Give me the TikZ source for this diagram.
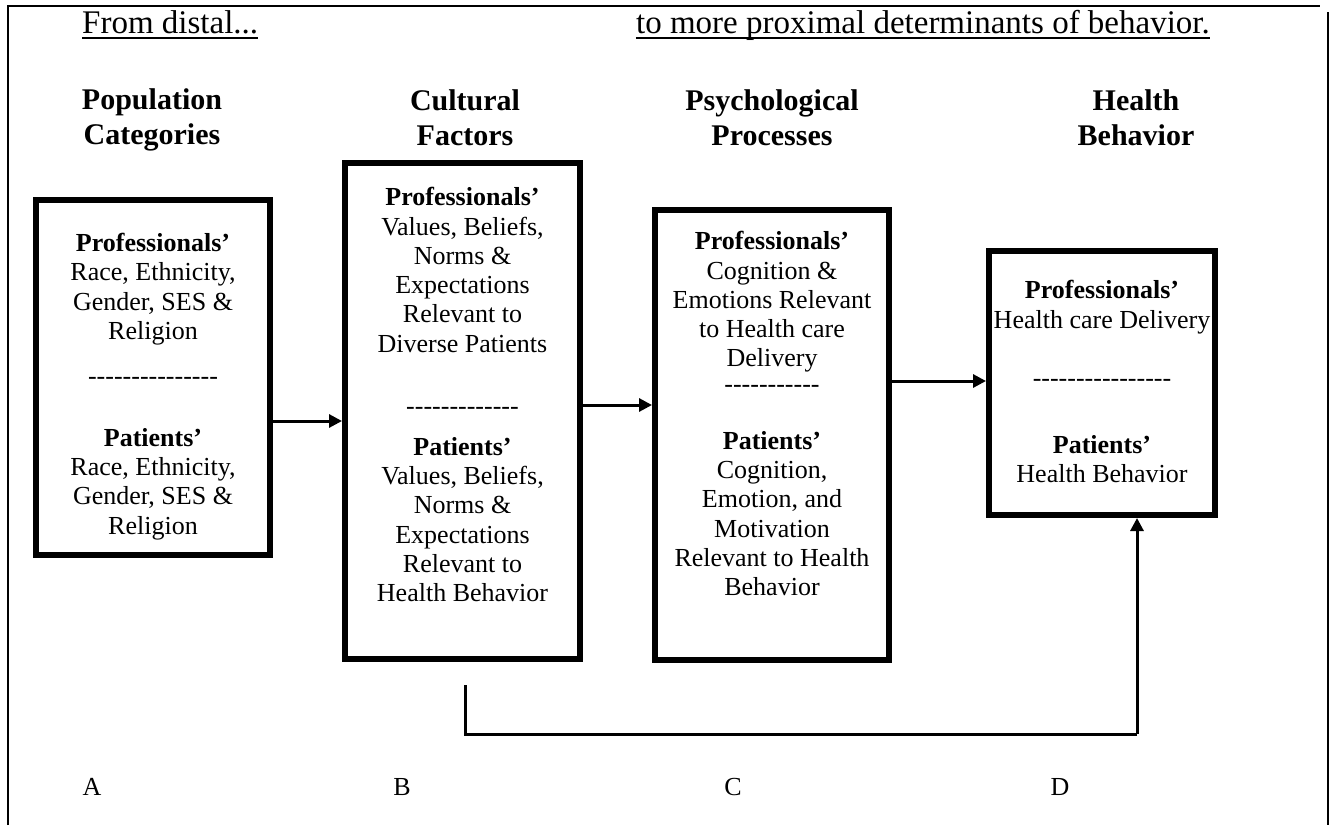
\documentclass[tikz,border=0pt]{standalone}
\usepackage{fontspec}
\setmainfont{Liberation Serif}
\usetikzlibrary{arrows.meta,positioning}

\tikzset{
  box/.style={draw, line width=6pt, inner sep=0pt},
  body/.style={align=center, inner sep=0pt, font=\fontsize{26}{29.3}\selectfont},
  head/.style={align=center, inner sep=0pt, font=\fontsize{30}{35}\selectfont\bfseries},
  top/.style={inner sep=0pt, font=\fontsize{33}{37}\selectfont},
  flow/.style={line width=3pt, -{Triangle[length=13pt,width=13pt]}},
  frame/.style={line width=2pt},
}
\newcommand{\hyph}[1]{\foreach \i in {1,...,#1}{-}}

\begin{document}
\begin{tikzpicture}[x=1pt, y=-1pt]
\useasboundingbox (0,0) rectangle (1332,825);

% frame
\draw[frame] (8,825) -- (8,6) -- (1320,6);
\draw[frame] (1328,12) -- (1328,825);

% header
\node[top, anchor=base west] (distal) at (82,33) {From distal...};
\node[top, anchor=base east] (proximal) at (1210,33) {to more proximal determinants of behavior.};
\draw[line width=1.5pt] ([yshift=-5pt]distal.base west) -- ([yshift=-5pt]distal.base east);
\draw[line width=1.5pt] ([yshift=-5pt]proximal.base west) -- ([yshift=-5pt]proximal.base east);

% column headings
\node[head] (hA) at (152,119.5) {Population\\Categories};
\node[head] (hB) at (465,117.5) {Cultural\\Factors};
\node[head] (hC) at (772,117.5) {Psychological\\Processes};
\node[head] (hD) at (1136,117.5) {Health\\Behavior};

% boxes
\node[box, minimum width=234pt, minimum height=355pt] (A) at (153,377.5) {};
\node[box, minimum width=235pt, minimum height=496pt] (B) at (462.5,411) {};
\node[box, minimum width=234pt, minimum height=450pt] (C) at (772,435) {};
\node[box, minimum width=226pt, minimum height=264pt] (D) at (1102,383) {};

% box A
\node[body] (profA) at (153,289) {\textbf{Professionals’}\\Race, Ethnicity,\\Gender, SES \&\\Religion};
\node[body] (dashA) at (153,381) {\hyph{15}};
\node[body] (patA) at (153,484) {\textbf{Patients’}\\Race, Ethnicity,\\Gender, SES \&\\Religion};

% box B
\node[body] (profB) at (462.5,270) {\textbf{Professionals’}\\Values, Beliefs,\\Norms \&\\Expectations\\Relevant to\\Diverse Patients};
\node[body] (dashB) at (462.5,411) {\hyph{13}};
\node[body] (patB) at (462.5,519.5) {\textbf{Patients’}\\Values, Beliefs,\\Norms \&\\Expectations\\Relevant to\\Health Behavior};

% box C
\node[body] (profC) at (772,302) {\textbf{Professionals’}\\Cognition \&\\Emotions Relevant\\to Health care\\Delivery};
\node[body] (dashC) at (772,389) {\hyph{11}};
\node[body] (patC) at (772,513.5) {\textbf{Patients’}\\Cognition,\\Emotion, and\\Motivation\\Relevant to Health\\Behavior};

% box D
\node[body] (profD) at (1102,307) {\textbf{Professionals’}\\Health care Delivery};
\node[body] (dashD) at (1102,383) {\hyph{16}};
\node[body] (patD) at (1102,459) {\textbf{Patients’}\\Health Behavior};

% arrows
\draw[flow] (A.east |- 0,421) -- (B.west |- 0,421);
\draw[flow] (B.east |- 0,405) -- (C.west |- 0,405);
\draw[flow] (C.east |- 0,381) -- (D.west |- 0,381);
\coordinate (fb) at (465,685);
\coordinate (fbend) at (1137,734);
\draw[line width=3pt] (fb) |- (fbend);
\draw[flow] (fbend) -- (fbend |- D.south);

% column letters
\node[body] (lA) at (92,787) {A};
\node[body] (lB) at (402,787) {B};
\node[body] (lC) at (733,787) {C};
\node[body] (lD) at (1060,787) {D};
\end{tikzpicture}
\end{document}
